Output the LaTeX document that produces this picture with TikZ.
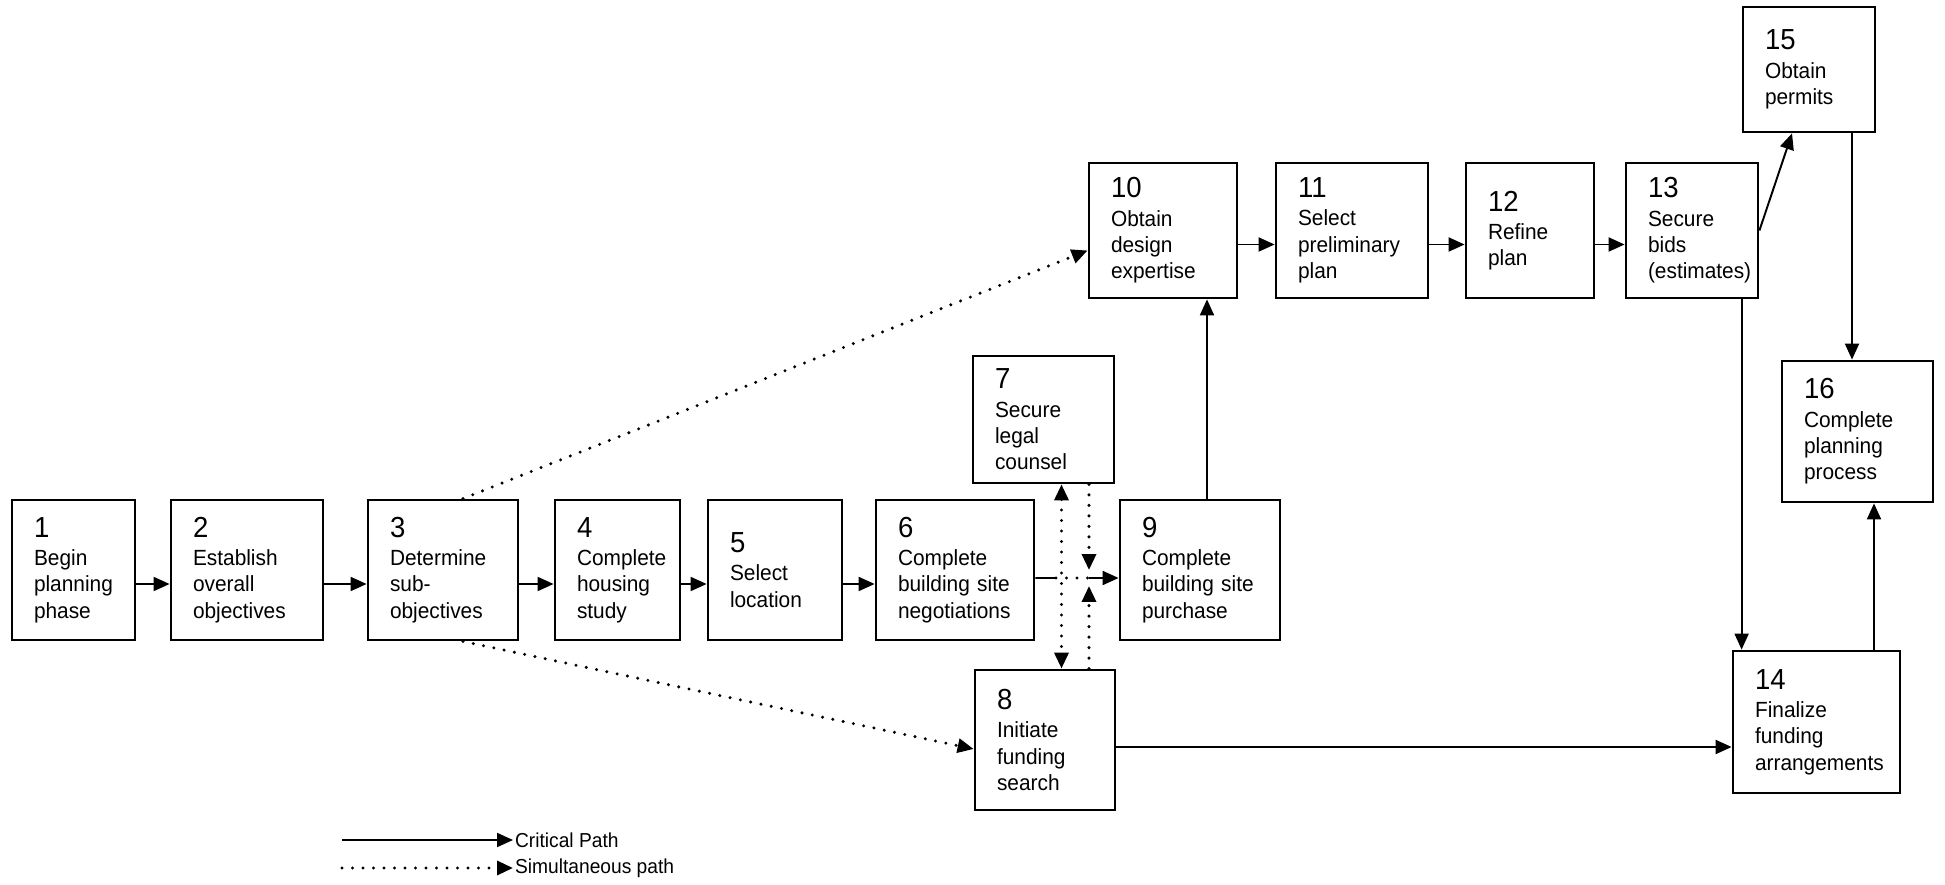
\documentclass[tikz,border=0pt]{standalone}
\usepackage{fontspec}
\setmainfont{Liberation Sans}[FakeStretch=0.95]
\usetikzlibrary{arrows.meta}
\hyphenpenalty=10000
\newcommand{\tasknum}[1]{{\fontsize{16.5pt}{16.5pt}\selectfont #1}\\[1pt]}

\begin{document}
\begin{tikzpicture}[x=0.02cm,y=-0.02cm,>={Triangle[length=0.32cm,width=0.28cm]},
  task/.style 2 args={draw,line width=1.6pt,align=left,inner xsep=0.44cm,inner ysep=0pt,
    text width=#1,minimum height=#2,font=\fontsize{12.5pt}{15pt}\selectfont},
  crit/.style={->,line width=1.1pt},
  simul/.style={line width=1.9pt,line cap=round,dash pattern=on 0pt off 0.21cm},
  legend/.style={anchor=west,inner sep=1pt,font=\fontsize{11.5pt}{14pt}\selectfont}]
\useasboundingbox (0,0) rectangle (1945,885);

% bottom row
\node[task={1.58cm}{2.8cm}] (b1) at (73.5,570) {\tasknum{1}Begin\\planning\\phase};
\node[task={2.16cm}{2.8cm}] (b2) at (247,570) {\tasknum{2}Establish\\overall\\objectives};
\node[task={2.12cm}{2.8cm}] (b3) at (443,570) {\tasknum{3}Determine\\sub-\\objectives};
\node[task={1.62cm}{2.8cm}] (b4) at (617.5,570) {\tasknum{4}Complete\\housing\\study};
\node[task={1.80cm}{2.8cm}] (b5) at (775,570) {\tasknum{5}Select\\location};
\node[task={2.28cm}{2.8cm}] (b6) at (955,570) {\tasknum{6}Complete\\building~site\\negotiations};
\node[task={2.32cm}{2.8cm}] (b9) at (1200,570) {\tasknum{9}Complete\\building~site\\purchase};
\node[task={1.94cm}{2.54cm}] (b7) at (1043.5,419.5) {\tasknum{7}Secure\\legal\\counsel};
\node[task={1.92cm}{2.8cm}] (b8) at (1045,740) {\tasknum{8}Initiate\\funding\\search};

% top row
\node[task={2.08cm}{2.7cm}] (b10) at (1163,230.5) {\tasknum{10}Obtain\\design\\expertise};
\node[task={2.16cm}{2.7cm}] (b11) at (1352,230.5) {\tasknum{11}Select\\preliminary\\plan};
\node[task={1.68cm}{2.7cm}] (b12) at (1530,230.5) {\tasknum{12}Refine\\plan};
\node[task={1.76cm}{2.7cm}] (b13) at (1692,230.5) {\tasknum{13}Secure\\bids\\(estimates)};
\node[task={1.76cm}{2.5cm}] (b15) at (1809,69.5) {\tasknum{15}Obtain\\permits};
\node[task={2.14cm}{2.82cm}] (b16) at (1857.5,431.5) {\tasknum{16}Complete\\planning\\process};
\node[task={2.46cm}{2.84cm}] (b14) at (1816.5,722) {\tasknum{14}Finalize\\funding\\arrangements};

% critical path
\draw[crit] ([yshift=-0.28cm]b1.east) -- ([yshift=-0.28cm]b2.west);
\draw[crit] ([yshift=-0.28cm]b2.east) -- ([yshift=-0.28cm]b3.west);
\draw[crit] ([yshift=-0.28cm]b3.east) -- ([yshift=-0.28cm]b4.west);
\draw[crit] ([yshift=-0.28cm]b4.east) -- ([yshift=-0.28cm]b5.west);
\draw[crit] ([yshift=-0.28cm]b5.east) -- ([yshift=-0.28cm]b6.west);
\coordinate (ja) at (1056,578);
\coordinate (jn) at (1089,578);
\draw[crit,-] ([yshift=-0.16cm]b6.east) -- (ja);
\draw[simul] (ja) -- (jn);
\draw[crit] (jn) -- ([yshift=-0.16cm]b9.west);
\draw[crit] ([xshift=0.14cm]b9.north) -- ([xshift=0.14cm]b9.north |- b10.south);
\draw[crit] ([yshift=-0.28cm]b10.east) -- ([yshift=-0.28cm]b11.west);
\draw[crit] ([yshift=-0.28cm]b11.east) -- ([yshift=-0.28cm]b12.west);
\draw[crit] ([yshift=-0.28cm]b12.east) -- ([yshift=-0.28cm]b13.west);
\draw[crit] (b13.east) -- ([xshift=-0.34cm]b15.south);
\draw[crit] ([xshift=-0.11cm]b16.north |- b15.south) -- ([xshift=-0.11cm]b16.north);
\draw[crit] ([xshift=0.2cm]b14.north west |- b13.south) -- ([xshift=0.2cm]b14.north west);
\draw[crit] ([yshift=-0.14cm]b8.east) -- ([yshift=-0.14cm]b8.east -| b14.west);
\draw[crit] ([xshift=0.33cm]b16.south |- b14.north) -- ([xshift=0.33cm]b16.south);

% simultaneous paths
\draw[simul,->] ([xshift=0.4cm]b3.north) -- ([yshift=-0.4cm]b10.west);
\draw[simul,->] ([xshift=0.4cm]b3.south) -- ([yshift=-0.18cm]b8.west);
\draw[simul,<->] ([xshift=0.36cm]b7.south) -- ([xshift=0.36cm]b7.south |- b8.north);
\draw[simul,->] (b7.south -| jn) -- ([yshift=0.16cm]jn);
\draw[simul,->] (b8.north -| jn) -- ([yshift=-0.16cm]jn);

% legend
\coordinate (lg1) at (342,840);
\coordinate (lg2) at (342,868);
\node[legend] (lgcrit) at (513,840) {Critical Path};
\node[legend] (lgsim) at (513,868) {Simultaneous path};
\draw[crit] (lg1) -- (lgcrit.west);
\draw[simul,->] (lg2) -- (lgsim.west);
\end{tikzpicture}
\end{document}
